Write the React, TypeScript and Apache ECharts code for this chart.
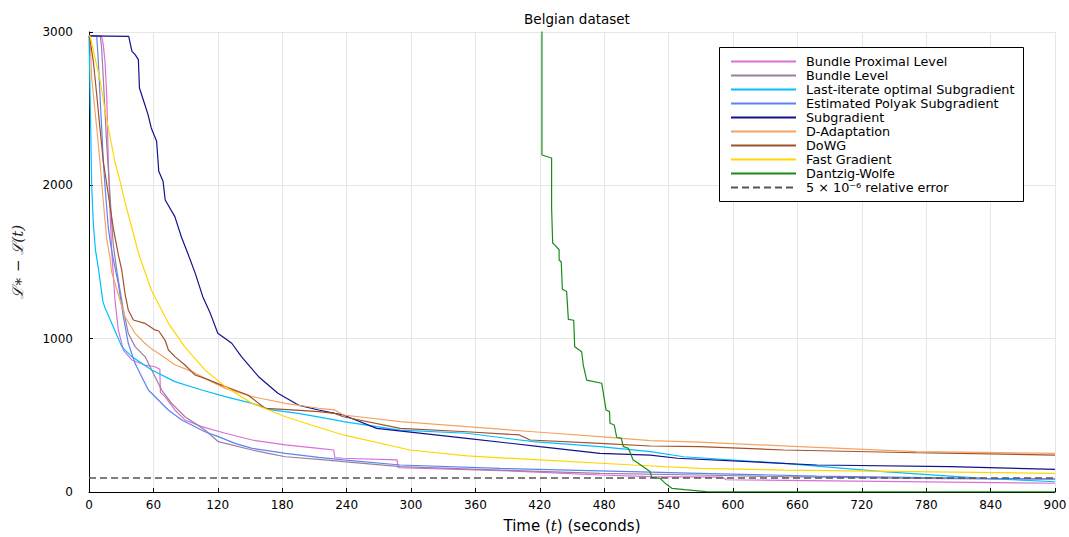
import React, { useEffect, useRef } from "react";
import * as echarts from "echarts";

const xTicks = [0, 60, 120, 180, 240, 300, 360, 420, 480, 540, 600, 660, 720, 780, 840, 900];
const yTicks = [0, 1000, 2000, 3000];

const seriesNames = [
  "Bundle Proximal Level",
  "Bundle Level",
  "Last-iterate optimal Subgradient",
  "Estimated Polyak Subgradient",
  "Subgradient",
  "D-Adaptation",
  "DoWG",
  "Fast Gradient",
  "Dantzig-Wolfe",
];
const refLabel = "5 × 10⁻⁶ relative error";

const bplT = [0, 11.8, 13.3, 14.9, 16.5, 18, 19.6, 21.1, 24.2, 27.3, 32, 39.8, 52, 61.5, 66, 66.5, 70.8, 80, 89.4, 105, 127, 152, 183, 214, 228, 229, 237, 287, 288, 383, 476, 523, 590, 594, 900];
const bplV = [2975, 2974, 2917, 2809, 2591, 2157, 1830, 1578, 1252, 1057, 926, 861, 828, 817, 800, 650, 622, 535, 470, 426, 383, 339, 307, 285, 274, 225, 220, 209, 158, 140, 111, 100, 97, 80, 57];

const blT = [0, 10.5, 11.8, 13.3, 14.9, 16.5, 18.6, 20.5, 22.6, 25.8, 28.9, 32, 36.6, 42.9, 52.2, 58.4, 67.7, 77, 89.4, 98.8, 108, 120.5, 152, 167, 183, 214, 237, 290, 383, 476, 569, 647, 771, 900];
const blV = [2975, 2974, 2896, 2700, 2483, 2265, 2048, 1830, 1613, 1448, 1317, 1187, 1035, 948, 883, 796, 665, 578, 491, 448, 404, 328, 274, 252, 230, 213, 198, 165, 143, 122, 111, 100, 89, 83];

const lioT = [0, 1, 2.5, 4, 6, 8.7, 13, 15, 22.6, 30.5, 39.8, 58.4, 80, 105, 127, 152, 170, 195, 229, 237, 290, 352, 414, 476, 523, 554, 647, 740, 833, 900];
const lioV = [2975, 2600, 2000, 1750, 1580, 1460, 1240, 1200, 1078, 948, 883, 796, 720, 665, 622, 578, 535, 513, 470, 459, 404, 383, 328, 296, 263, 230, 187, 133, 89, 67];

const epsT = [0, 7.2, 8.7, 10.2, 11.8, 13.3, 15.5, 18, 20.5, 22.6, 27.3, 32, 36.6, 42.9, 49.1, 55.3, 64.6, 73.9, 86.4, 98.8, 108, 120.5, 136, 152, 183, 214, 237, 290, 383, 476, 569, 678, 833, 900];
const epsV = [2975, 2974, 2809, 2591, 2374, 2157, 1939, 1722, 1600, 1520, 1361, 1143, 970, 839, 752, 665, 600, 535, 470, 426, 393, 361, 317, 285, 252, 226, 209, 176, 154, 138, 122, 104, 89, 85];

const sgT = [0, 37, 40, 43, 46, 47, 51, 55, 58, 63, 65, 69, 71, 80, 86, 92, 99, 106, 113, 120, 133, 142, 158, 176, 195, 214, 229, 237, 268, 352, 420, 476, 523, 548, 678, 802, 900];
const sgV = [2975, 2972, 2874, 2852, 2820, 2635, 2548, 2461, 2374, 2287, 2092, 2026, 1904, 1796, 1665, 1557, 1426, 1274, 1165, 1035, 970, 883, 752, 644, 567, 535, 513, 502, 415, 350, 296, 252, 241, 220, 176, 165, 148];

const daT = [0, 1, 2.5, 5.6, 7.2, 10.2, 13.3, 16.5, 19.6, 21, 27, 33.5, 43, 52, 58, 65, 80, 96, 108, 127, 152, 183, 214, 229, 237, 290, 352, 414, 476, 523, 569, 662, 771, 900];
const daV = [2975, 2950, 2700, 2483, 2374, 2157, 1896, 1650, 1526, 1437, 1296, 1143, 1035, 970, 935, 904, 830, 785, 741, 676, 622, 578, 546, 535, 502, 459, 426, 393, 361, 335, 325, 296, 263, 252];

const dowgT = [0, 1, 4, 7.2, 10.2, 13.3, 18, 22.6, 27.3, 30.5, 33.5, 36.6, 41.3, 52, 61.5, 65, 70.8, 74, 80, 89.4, 98.8, 108, 127, 148, 164, 189, 214, 229, 237, 290, 352, 401, 411, 476, 523, 569, 647, 771, 900];
const dowgV = [2975, 2950, 2809, 2591, 2374, 2157, 1939, 1722, 1548, 1448, 1296, 1187, 1122, 1100, 1057, 1050, 991, 926, 883, 828, 763, 741, 687, 633, 546, 535, 524, 513, 491, 415, 393, 372, 339, 317, 300, 296, 274, 256, 241];

const fgT = [0, 1, 5.6, 10, 15, 18, 24, 29, 33.5, 40, 46, 58, 74, 89, 108, 127, 152, 183, 197, 207, 237, 299, 352, 420, 507, 569, 647, 900];
const fgV = [2975, 2974, 2830, 2700, 2483, 2374, 2157, 2026, 1890, 1720, 1560, 1317, 1100, 948, 796, 687, 578, 491, 460, 437, 372, 274, 235, 209, 176, 154, 143, 122];

const dwT = [422, 422, 431, 431, 432, 434, 438, 438, 440, 441, 445, 446.6, 451.6, 452.5, 459, 460.5, 463.7, 477.7, 479, 481.7, 485, 485.4, 489.4, 491.6, 496, 497.8, 502.5, 507, 511.7, 522.7, 524.3, 532, 538, 543, 555, 575, 590, 900];
const dwV = [3600, 2198, 2178, 1852, 1624, 1610, 1580, 1513, 1500, 1322, 1307, 1126, 1120, 948, 915, 828, 730, 709, 654, 535, 524, 448, 437, 357, 350, 296, 285, 209, 187, 133, 96, 89, 50, 24, 15, 3, 1, 1];

const refT = [0, 900];
const refV = [91, 91];

const colors = ["#da70d6", "#9b7f9e", "#00bfff", "#5b83f2", "#12128c", "#f4a460", "#a0522d", "#ffd700", "#1a8a1a"];

const zip = (t: number[], v: number[]) => t.map((x, i) => [x, v[i]]);

export default function App() {
  const ref = useRef<HTMLDivElement>(null);
  useEffect(() => {
    if (!ref.current) return;
    const chart = echarts.init(ref.current, undefined, { renderer: "svg" });
    const sets = [
      zip(bplT, bplV),
      zip(blT, blV),
      zip(lioT, lioV),
      zip(epsT, epsV),
      zip(sgT, sgV),
      zip(daT, daV),
      zip(dowgT, dowgV),
      zip(fgT, fgV),
      zip(dwT, dwV),
    ];
    const series: any[] = sets.map((d, i) => ({
      name: seriesNames[i],
      type: "line",
      data: d,
      symbol: "none",
      clip: true,
      lineStyle: { color: colors[i], width: 1.2 },
      itemStyle: { color: colors[i] },
    }));
    series.push({
      name: refLabel,
      type: "line",
      data: zip(refT, refV),
      symbol: "none",
      lineStyle: { color: "#555", width: 1.6, type: [7, 4] },
      itemStyle: { color: "#555" },
    });
    chart.setOption({
      animation: false,
      backgroundColor: "#fff",
      textStyle: { fontFamily: "DejaVu Sans" },
      title: {
        text: "Belgian dataset",
        left: 572,
        textAlign: "center",
        top: 7,
        textStyle: { fontSize: 13.5, fontWeight: "normal", color: "#000", fontFamily: "DejaVu Sans" },
      },
      grid: { left: 89, right: 14, top: 32, bottom: 45, containLabel: false, outerBoundsMode: "none" },
      xAxis: {
        type: "value",
        min: 0,
        max: 900,
        interval: 60,
        name: "Time ({i|t}) (seconds)",
        nameLocation: "middle",
        nameGap: 26,
        nameTextStyle: {
          fontSize: 15,
          color: "#000",
          fontFamily: "DejaVu Sans",
          rich: { i: { fontSize: 15, fontFamily: "DejaVu Serif", fontStyle: "italic", color: "#000" } },
        },
        axisLine: { show: true, lineStyle: { color: "#000", width: 1 } },
        axisTick: { show: true, inside: true, length: 4, lineStyle: { color: "#000" } },
        axisLabel: { fontSize: 12, color: "#000", margin: 7, fontFamily: "DejaVu Sans", formatter: (v: number) => String(v) },
        splitLine: { show: true, lineStyle: { color: "#e6e6e6", width: 1 } },
      },
      yAxis: {
        type: "value",
        min: 0,
        max: 3000,
        interval: 1000,
        name: "ℒ∗ − ℒ(t)",
        nameLocation: "middle",
        nameGap: 64,
        nameTextStyle: { fontSize: 15, color: "#222", fontFamily: "DejaVu Serif", fontStyle: "italic" },
        axisLine: { show: true, lineStyle: { color: "#000", width: 1 } },
        axisTick: { show: true, inside: true, length: 4, lineStyle: { color: "#000" } },
        axisLabel: { fontSize: 12, color: "#000", margin: 16, fontFamily: "DejaVu Sans", formatter: (v: number) => String(v) },
        splitLine: { show: true, lineStyle: { color: "#e6e6e6", width: 1 } },
      },
      legend: {
        orient: "vertical",
        left: 730,
        top: 55,
        padding: 0,
        itemWidth: 65,
        itemHeight: 14,
        itemGap: 1.0,
        z: 10,
        itemStyle: { opacity: 0 },
        data: [...seriesNames, refLabel],
        textStyle: { fontSize: 12.8, color: "#000", fontFamily: "DejaVu Sans", padding: [0, 0, 0, 5] },
      },
      graphic: [
        {
          type: "rect",
          z: 5,
          shape: { x: 719.5, y: 47.5, width: 304, height: 154 },
          style: { fill: "#fff", stroke: "#000", lineWidth: 1 },
        },
      ],
      series,
    });
    return () => chart.dispose();
  }, []);
  return <div ref={ref} style={{ position: "fixed", left: 0, top: 0, width: 1069, height: 537 }} />;
}
